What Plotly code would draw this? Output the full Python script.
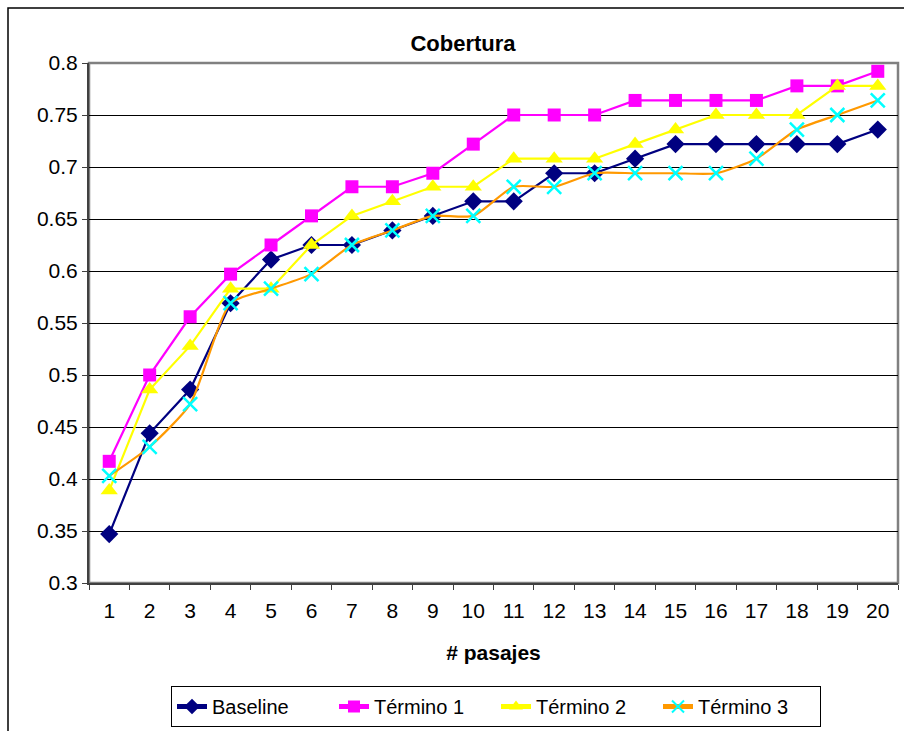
import plotly.graph_objects as go

# Number of passages retrieved (x categories)
pasajes = [str(i) for i in range(1, 21)]

# Coverage per configuration
baseline = [0.347, 0.444, 0.486, 0.569, 0.611, 0.625, 0.625, 0.639, 0.653, 0.667,
            0.667, 0.694, 0.694, 0.708, 0.722, 0.722, 0.722, 0.722, 0.722, 0.736]
termino1 = [0.417, 0.500, 0.556, 0.597, 0.625, 0.653, 0.681, 0.681, 0.694, 0.722,
            0.750, 0.750, 0.750, 0.764, 0.764, 0.764, 0.764, 0.778, 0.778, 0.792]
termino2 = [0.389, 0.486, 0.528, 0.583, 0.583, 0.625, 0.653, 0.667, 0.681, 0.681,
            0.708, 0.708, 0.708, 0.722, 0.736, 0.750, 0.750, 0.750, 0.778, 0.778]
termino3 = [0.403, 0.431, 0.472, 0.569, 0.583, 0.597, 0.625, 0.639, 0.653, 0.653,
            0.681, 0.681, 0.694, 0.694, 0.694, 0.694, 0.708, 0.736, 0.750, 0.764]

y_ticks = [0.3, 0.35, 0.4, 0.45, 0.5, 0.55, 0.6, 0.65, 0.7, 0.75, 0.8]
y_labels = ["0.3", "0.35", "0.4", "0.45", "0.5", "0.55", "0.6", "0.65", "0.7", "0.75", "0.8"]

FONT = "Arial, Liberation Sans, sans-serif"

fig = go.Figure()

fig.add_trace(go.Scatter(
    x=pasajes, y=baseline, name="Baseline", mode="lines+markers",
    line=dict(color="#000080", width=2.2),
    marker=dict(symbol="diamond", size=14, color="#000080"),
))
fig.add_trace(go.Scatter(
    x=pasajes, y=termino1, name="Término 1", mode="lines+markers",
    line=dict(color="#FF00FF", width=2.2),
    marker=dict(symbol="square", size=13, color="#FF00FF"),
))
fig.add_trace(go.Scatter(
    x=pasajes, y=termino2, name="Término 2", mode="lines+markers",
    line=dict(color="#FFFF00", width=2.2),
    marker=dict(symbol="triangle-up", size=15, color="#FFFF00"),
))
fig.add_trace(go.Scatter(
    x=pasajes, y=termino3, name="Término 3", mode="lines+markers",
    line=dict(color="#FF9900", width=2.2, shape="spline", smoothing=0.6),
    marker=dict(symbol="x-thin", size=14, color="#00FFFF",
                line=dict(color="#00FFFF", width=2.5)),
))

W, H = 904, 731
L, R, T, B = 89, 6, 63, 148
pw, ph = W - L - R, H - T - B

shapes = [
    # outer chart frame
    dict(type="rect", xref="paper", yref="paper",
         x0=(8 - L) / pw, x1=1 + (W + 10 - (W - R)) / pw,
         y0=-(H + 10 - (H - B)) / ph, y1=1 + (T - 8) / ph,
         line=dict(color="black", width=1.5), layer="below"),
    # plot area frame
    dict(type="rect", xref="paper", yref="paper", x0=0, x1=1, y0=0, y1=1,
         line=dict(color="#808080", width=2.5), layer="below"),
]

fig.update_layout(
    width=W, height=H,
    margin=dict(l=L, r=R, t=T, b=B, autoexpand=False),
    paper_bgcolor="white", plot_bgcolor="white",
    font=dict(family=FONT, size=21, color="black"),
    title=dict(text="<b>Cobertura</b>", x=(463 - L) / pw, xref="paper",
               xanchor="center", y=1 - 43 / H, yanchor="middle",
               font=dict(size=22, family=FONT)),
    showlegend=True,
    legend=dict(orientation="h", x=(496 - L) / pw, xanchor="center",
                y=-(686 - (H - B)) / ph, yanchor="top",
                bordercolor="black", borderwidth=1, bgcolor="white",
                font=dict(size=20, family=FONT),
                entrywidth=117, entrywidthmode="pixels",
                traceorder="normal", itemsizing="constant",
                tracegroupgap=0),
    shapes=shapes,
)

fig.update_xaxes(
    type="category", range=[-0.5, 19.5], tickson="boundaries",
    ticks="outside", ticklen=5, tickwidth=1, tickcolor="#404040",
    showline=True, linecolor="#404040", linewidth=2,
    showgrid=False, zeroline=False, ticklabelstandoff=8,
    tickfont=dict(size=21, family=FONT),
    title=dict(text="<b># pasajes</b>", font=dict(size=21, family=FONT), standoff=24),
)
fig.update_yaxes(
    range=[0.3, 0.8], tickvals=y_ticks, ticktext=y_labels,
    ticks="outside", ticklen=5, tickwidth=1, tickcolor="#404040",
    showline=True, linecolor="#404040", linewidth=2,
    showgrid=True, gridcolor="black", gridwidth=1, zeroline=False,
    tickfont=dict(size=21, family=FONT),
)

fig.write_html("out.html")
